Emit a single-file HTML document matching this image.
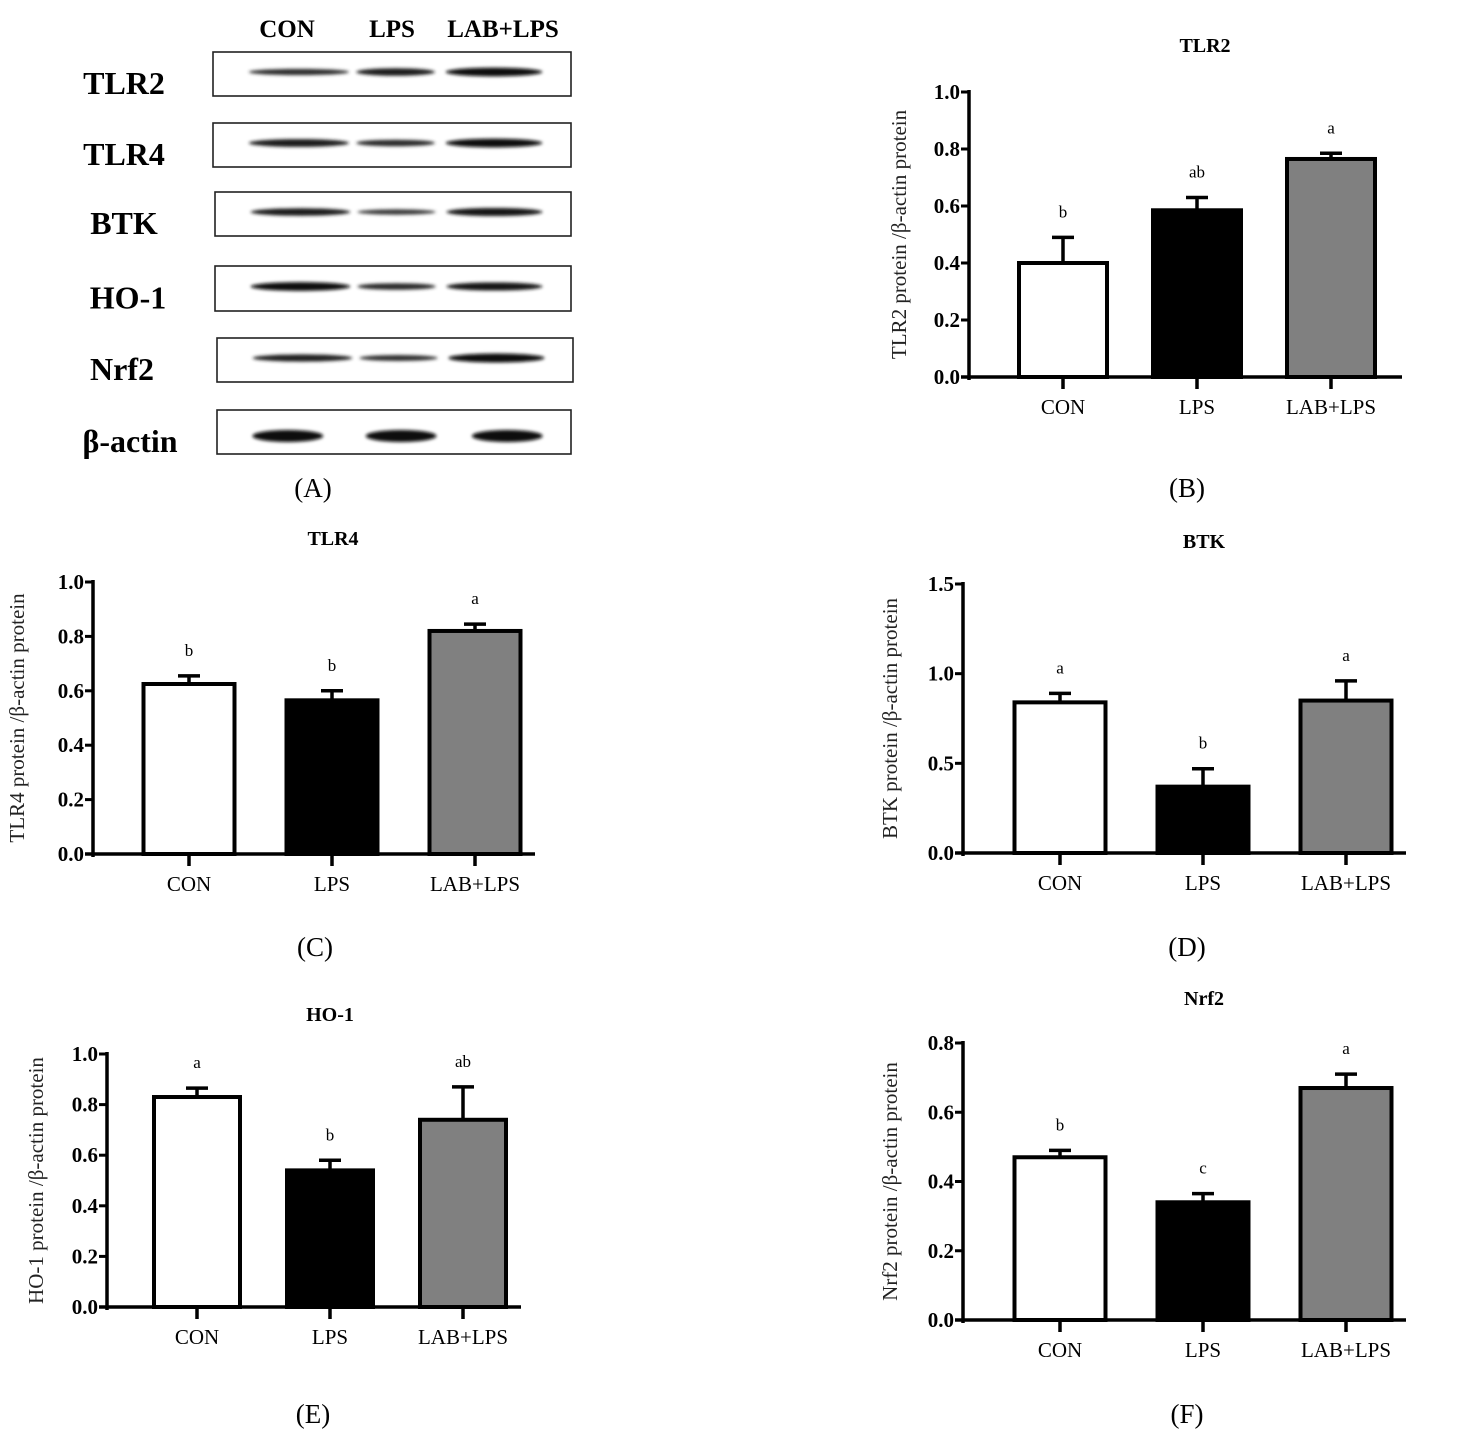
<!DOCTYPE html>
<html><head><meta charset="utf-8"><style>
body{margin:0;background:#fff;}
svg{display:block;font-family:"Liberation Serif",serif;}
</style></head><body>
<svg id="fig" width="1458" height="1438" viewBox="0 0 1458 1438">
<defs><filter id="blur" x="-20%" y="-200%" width="140%" height="500%"><feGaussianBlur stdDeviation="1.6"/></filter></defs>
<g id="blots"></g>
<g id="charts"></g>
</svg>
<script>
const NS="http://www.w3.org/2000/svg";
const svg=document.getElementById('fig');
function mk(tag,attrs,parent,text){const e=document.createElementNS(NS,tag);for(const k in attrs)e.setAttribute(k,attrs[k]);if(text!==undefined)e.textContent=text;parent.appendChild(e);return e;}

// ---- data ----
const categories=["CON","LPS","LAB+LPS"];
const fills=["#fff","#000","#808080"];
const tlr2Values=[0.40,0.585,0.765];
const tlr2Errors=[0.09,0.045,0.02];
const tlr2Letters=["b","ab","a"];
const tlr4Values=[0.625,0.565,0.82];
const tlr4Errors=[0.03,0.035,0.025];
const tlr4Letters=["b","b","a"];
const btkValues=[0.84,0.37,0.85];
const btkErrors=[0.05,0.10,0.11];
const btkLetters=["a","b","a"];
const ho1Values=[0.83,0.54,0.74];
const ho1Errors=[0.035,0.04,0.13];
const ho1Letters=["a","b","ab"];
const nrf2Values=[0.47,0.34,0.67];
const nrf2Errors=[0.02,0.025,0.04];
const nrf2Letters=["b","c","a"];
const tickLabels01=["0.0","0.2","0.4","0.6","0.8","1.0"];
const tickLabels15=["0.0","0.5","1.0","1.5"];
const tickLabels08=["0.0","0.2","0.4","0.6","0.8"];

// blot band intensities (0-1) per protein per lane
const blotProteins=["TLR2","TLR4","BTK","HO-1","Nrf2","β-actin"];
const blotIntensity=[[0.55,0.75,0.95],[0.8,0.6,0.95],[0.75,0.4,0.85],[0.95,0.6,0.85],[0.7,0.5,1.0],[1,1,1]];

// ---- blots ----
const bg=document.getElementById('blots');
const boxes=[[213,52,571,96],[213,123,571,167],[215,192,571,236],[215,266,571,311],[217,338,573,382],[217,410,571,454]];
const labelX=[124,124,124,128,122,130];
[["CON",287],["LPS",392],["LAB+LPS",503]].forEach(([t,x],i)=>{
 const e=mk('text',{x:x,y:37,'text-anchor':'middle','font-size':25,'font-weight':'bold'},bg,t);
 });
boxes.forEach((b,i)=>{
 const [x1,y1,x2,y2]=b;
 const lab=mk('text',{x:labelX[i],y:(y1+y2)/2+20,'text-anchor':'middle','font-size':32,'font-weight':'bold'},bg,blotProteins[i]);
 
 const r=mk('rect',{x:x1,y:y1,width:x2-x1,height:y2-y1,fill:'#fff',stroke:'#222','stroke-width':1.6},bg);
 
 const cy=(y1+y2)/2+(i==5?4:-2);
 const w=(x2-x1);
 const lanes=[[x1+w*0.1,x1+w*0.38],[x1+w*0.4,x1+w*0.62],[x1+w*0.65,x1+w*0.92]];
 if(i==5){lanes[0]=[x1+w*0.1,x1+w*0.3];lanes[1]=[x1+w*0.42,x1+w*0.62];lanes[2]=[x1+w*0.72,x1+w*0.92];}
 lanes.forEach((l,j)=>{
  const v=blotIntensity[i][j];
  const h=i==5?12:3+v*6;
  const g=Math.round(90-v*80);
  const band=mk('ellipse',{cx:(l[0]+l[1])/2,cy:cy,rx:(l[1]-l[0])/2,ry:h/2,fill:`rgb(${g},${g},${g})`,filter:'url(#blur)'},bg);
  
 });
});

// ---- charts ----
const cg=document.getElementById('charts');
function chart(cfg){
 const g=mk('g',{},cg);
 
 const yScale=v=>cfg.y0-(v/cfg.max)*(cfg.y0-cfg.yTop);
 const t=mk('text',{x:cfg.titleX,y:cfg.titleY,'text-anchor':'middle','font-size':20,'font-weight':'bold'},g,cfg.title);
 
 cfg.values.forEach((v,i)=>{
  const cx=cfg.bx0+i*cfg.step;
  const top=yScale(v);
  const eb=yScale(v+cfg.errors[i]);
  const l=mk('line',{x1:cx,x2:cx,y1:top,y2:eb,stroke:'#000','stroke-width':3.5},g);
  
  const c=mk('line',{x1:cx-11,x2:cx+11,y1:eb,y2:eb,stroke:'#000','stroke-width':3.5},g);
  
  const r=mk('rect',{x:cx-cfg.bw/2,y:top,width:cfg.bw,height:cfg.y0-top,fill:fills[i],stroke:'#000','stroke-width':4},g);
  
  const lt=mk('text',{x:cx,y:eb-20,'text-anchor':'middle','font-size':17},g,cfg.letters[i]);
  
  const tk=mk('line',{x1:cx,x2:cx,y1:cfg.y0,y2:cfg.y0+12,stroke:'#000','stroke-width':3.5},g);
  
  const xl=mk('text',{x:cx,y:cfg.y0+37,'text-anchor':'middle','font-size':21},g,categories[i]);
  
 });
 const ya=mk('line',{x1:cfg.ax,x2:cfg.ax,y1:cfg.yTop-2,y2:cfg.y0+3,stroke:'#000','stroke-width':3.5},g);
 
 const xa=mk('line',{x1:cfg.ax-8,x2:cfg.axEnd,y1:cfg.y0,y2:cfg.y0,stroke:'#000','stroke-width':3.5},g);
 
 cfg.ticks.forEach((lab,i)=>{
  const v=parseFloat(lab);const y=yScale(v);
  const tk=mk('line',{x1:cfg.ax-8,x2:cfg.ax,y1:y,y2:y,stroke:'#000','stroke-width':3},g);
  
  const tl=mk('text',{x:cfg.ax-9,y:y+7,'text-anchor':'end','font-size':21,'font-weight':'bold'},g,lab);
  
 });
 const yt=mk('text',{x:0,y:0,'text-anchor':'middle','font-size':21,fill:'#222',transform:`translate(${cfg.ytX},${(cfg.y0+cfg.yTop)/2}) rotate(-90)`},g,cfg.yTitle);
 
 const pl=mk('text',{x:cfg.plX,y:cfg.plY,'text-anchor':'middle','font-size':27},g,cfg.panel);
 
}
const A=mk('text',{x:313,y:497,'text-anchor':'middle','font-size':27},cg,'(A)');


chart({name:'tlr2-chart',title:'TLR2',titleX:1205,titleY:52,values:tlr2Values,errors:tlr2Errors,letters:tlr2Letters,max:1,ticks:tickLabels01,
 ax:969,axEnd:1402,y0:377,yTop:92,bx0:1063,step:134,bw:88,ytX:906,yTitle:'TLR2 protein /β-actin protein',panel:'(B)',plX:1187,plY:497});
chart({name:'tlr4-chart',title:'TLR4',titleX:333,titleY:545,values:tlr4Values,errors:tlr4Errors,letters:tlr4Letters,max:1,ticks:tickLabels01,
 ax:93,axEnd:535,y0:854,yTop:582,bx0:189,step:143,bw:91,ytX:24,yTitle:'TLR4 protein /β-actin protein',panel:'(C)',plX:315,plY:956});
chart({name:'btk-chart',title:'BTK',titleX:1204,titleY:548,values:btkValues,errors:btkErrors,letters:btkLetters,max:1.5,ticks:tickLabels15,
 ax:963,axEnd:1406,y0:853,yTop:584,bx0:1060,step:143,bw:91,ytX:897,yTitle:'BTK protein /β-actin protein',panel:'(D)',plX:1187,plY:956});
chart({name:'ho1-chart',title:'HO-1',titleX:330,titleY:1021,values:ho1Values,errors:ho1Errors,letters:ho1Letters,max:1,ticks:tickLabels01,
 ax:107,axEnd:521,y0:1307,yTop:1054,bx0:197,step:133,bw:86,ytX:43,yTitle:'HO-1 protein /β-actin protein',panel:'(E)',plX:313,plY:1423});
chart({name:'nrf2-chart',title:'Nrf2',titleX:1204,titleY:1005,values:nrf2Values,errors:nrf2Errors,letters:nrf2Letters,max:0.8,ticks:tickLabels08,
 ax:963,axEnd:1406,y0:1320,yTop:1043,bx0:1060,step:143,bw:91,ytX:897,yTitle:'Nrf2 protein /β-actin protein',panel:'(F)',plX:1187,plY:1423});
</script>
</body></html>
